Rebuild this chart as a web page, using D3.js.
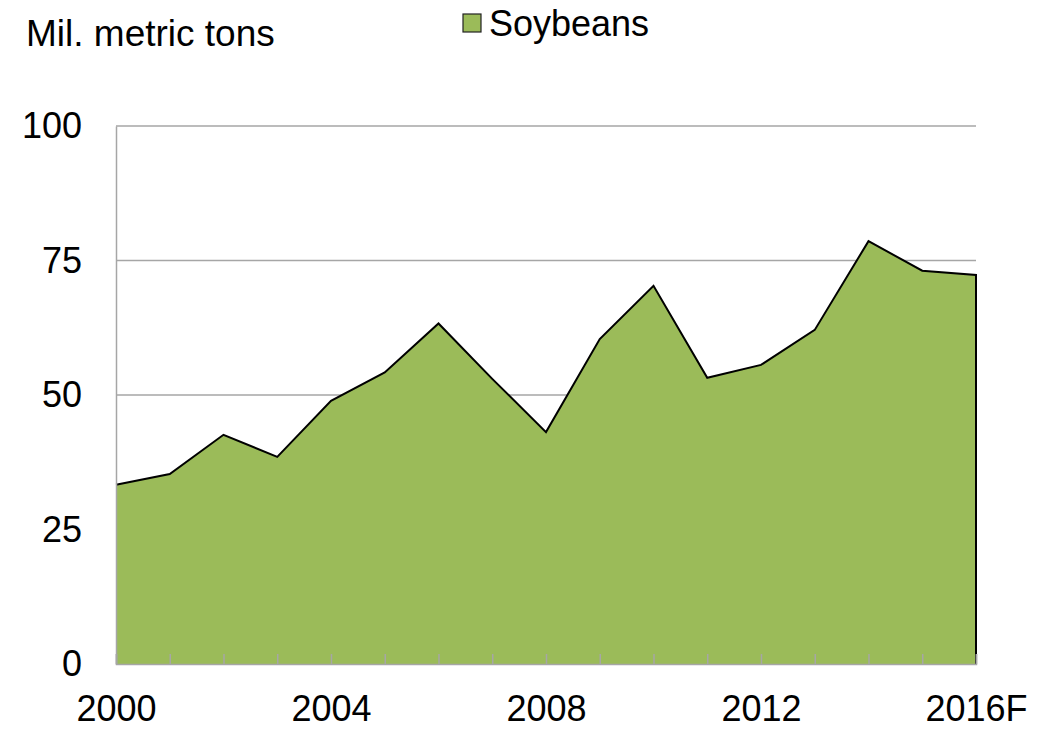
<!DOCTYPE html>
<html>
<head>
<meta charset="utf-8">
<script src="https://cdn.jsdelivr.net/npm/d3@7"></script>
<style>
  body { margin: 0; background: #fff; }
  svg { font-family: "Liberation Sans", Arial, sans-serif; }
</style>
</head>
<body>
<svg id="chart" width="1060" height="730"></svg>
<script>
var years = ["2000","2001","2002","2003","2004","2005","2006","2007","2008",
             "2009","2010","2011","2012","2013","2014","2015","2016F"];
var soybeans = [33.3, 35.3, 42.6, 38.5, 48.9, 54.2, 63.3, 53.0, 43.1,
                60.4, 70.3, 53.2, 55.6, 62.1, 78.6, 73.1, 72.3];
var yTicks = [0, 25, 50, 75, 100];
var xLabels = ["2000", "2004", "2008", "2012", "2016F"];

var svg = d3.select("#chart");
var plotLeft = 116, plotRight = 976, plotTop = 126, plotBottom = 664;

var x = d3.scalePoint().domain(years).range([plotLeft, plotRight]);
var y = d3.scaleLinear().domain([0, 100]).range([plotBottom, plotTop]);

// grid lines
svg.append("g").selectAll("line")
  .data(yTicks.filter(function(d) { return d > 0; }))
  .enter().append("line")
    .attr("x1", plotLeft).attr("x2", plotRight)
    .attr("y1", function(d) { return y(d); })
    .attr("y2", function(d) { return y(d); })
    .attr("stroke", "#a6a6a6").attr("stroke-width", 1.5);

var data = years.map(function(d, i) { return {x: d, y: soybeans[i]}; });

// area
svg.append("path")
  .datum(data)
  .attr("fill", "#9bbb59")
  .attr("d", d3.area()
    .x(function(d) { return x(d.x); })
    .y0(y(0))
    .y1(function(d) { return y(d.y); }));

// outline: top line + right edge
var last = data[data.length - 1];
svg.append("path")
  .datum(data.concat([{x: last.x, y: 0}]))
  .attr("fill", "none")
  .attr("stroke", "#000")
  .attr("stroke-width", 2)
  .attr("d", d3.line()
    .x(function(d) { return x(d.x); })
    .y(function(d) { return y(d.y); }));

// y axis
var yAxis = svg.append("g")
  .attr("transform", "translate(" + plotLeft + ",0)")
  .call(d3.axisLeft(y).tickValues(yTicks).tickSize(0).tickPadding(34));
yAxis.select(".domain").attr("stroke", "#a6a6a6").attr("stroke-width", 1.5);
yAxis.selectAll("text")
  .attr("font-size", 36).attr("fill", "#000")
  .attr("font-family", "'Liberation Sans', Arial, sans-serif");

// x axis (ticks pointing up into the plot)
var xAxis = svg.append("g")
  .attr("transform", "translate(0," + plotBottom + ")")
  .call(d3.axisBottom(x).tickSize(-10).tickPadding(0)
    .tickFormat(function(d) { return xLabels.indexOf(d) >= 0 ? d : ""; }));
xAxis.select(".domain").attr("stroke", "#a6a6a6").attr("stroke-width", 1.5);
xAxis.selectAll(".tick line").attr("stroke", "#a6a6a6").attr("stroke-width", 1.5);
xAxis.selectAll("text")
  .attr("y", 31).attr("dy", "0.71em")
  .attr("font-size", 36).attr("fill", "#000")
  .attr("font-family", "'Liberation Sans', Arial, sans-serif");

// unit label
svg.append("text")
  .attr("x", 26).attr("y", 46)
  .attr("font-size", 37)
  .text("Mil. metric tons");

// legend
svg.append("rect")
  .attr("x", 463).attr("y", 14).attr("width", 18).attr("height", 18)
  .attr("fill", "#9bbb59").attr("stroke", "#222").attr("stroke-width", 1.2);
svg.append("text")
  .attr("x", 489).attr("y", 36)
  .attr("font-size", 36)
  .text("Soybeans");
</script>
</body>
</html>
